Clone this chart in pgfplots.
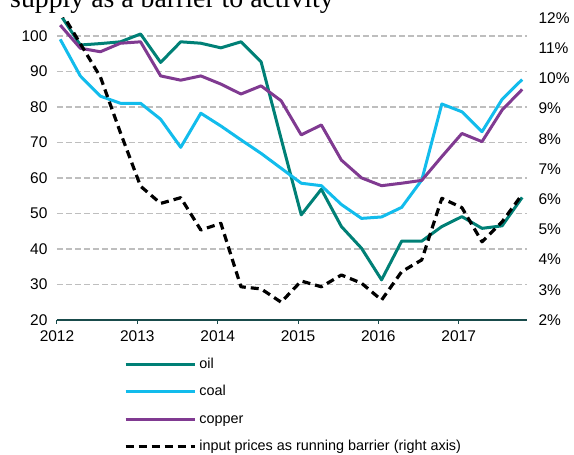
\documentclass[border=0pt]{standalone}
\usepackage{fontspec}
\setmainfont{Liberation Sans}
\newfontfamily\seriffont{Liberation Serif}
\usepackage{pgfplots}
\pgfplotsset{compat=1.18}
\definecolor{oilc}{RGB}{0,128,118}
\definecolor{coalc}{RGB}{18,188,236}
\definecolor{copc}{RGB}{128,58,145}
\definecolor{axc}{RGB}{25,75,75}
\definecolor{gridc}{RGB}{190,190,190}
\pgfplotsset{
  every axis/.append style={
    scale only axis, width=470pt, height=302pt,
    xmin=2012, xmax=2017.85,
    /pgf/number format/assume math mode=true,
    tick label style={font=\fontsize{15.5}{18}\selectfont},
  },
  mainline/.style={line width=3pt, line join=round},
}
\begin{document}
\begin{tikzpicture}[x=1pt,y=1pt]
\node[anchor=base west, inner sep=0pt, font=\seriffont\fontsize{27.8}{30}\selectfont] at (-47,312.7) {supply as a barrier to activity};
\begin{axis}[at={(0,0)}, anchor=south west,
  ymin=20, ymax=105,
  axis x line*=bottom, axis y line*=left,
  y axis line style={draw=none},
  x axis line style={draw=axc, line width=1.5pt},
  xtick={2012,2013,2014,2015,2016,2017},
  xticklabels={2012,2013,2014,2015,2016,2017},
  xtick align=outside,
  major tick length=4pt,
  xtick style={draw=axc, line width=1pt},
  ytick={20,30,40,50,60,70,80,90,100},
  ytick style={draw=none},
  ymajorgrids, grid style={draw=gridc, line width=1.5pt, dash pattern=on 6pt off 3pt},
  yticklabel style={xshift=-6pt},
  xticklabel style={yshift=-3pt},
]
\addplot[mainline, oilc] coordinates {
(2012.04,106) (2012.29,97.4) (2012.54,97.8) (2012.79,98.3) (2013.04,100.5) (2013.29,92.5)
(2013.54,98.3) (2013.79,97.9) (2014.04,96.6) (2014.29,98.3) (2014.54,92.7) (2014.79,71)
(2015.04,49.6) (2015.29,56.8) (2015.54,46.3) (2015.79,40.2) (2016.04,31.3) (2016.29,42.2)
(2016.54,42.2) (2016.79,46.3) (2017.04,49.1) (2017.29,45.8) (2017.54,46.5) (2017.79,54.5)};
\addplot[mainline, coalc] coordinates {
(2012.04,99) (2012.29,88.7) (2012.54,83.0) (2012.79,81.0) (2013.04,81.0) (2013.29,76.5)
(2013.54,68.6) (2013.79,78.2) (2014.04,74.6) (2014.29,70.7) (2014.54,66.9) (2014.79,62.7)
(2015.04,58.5) (2015.29,57.8) (2015.54,52.5) (2015.79,48.6) (2016.04,49.0) (2016.29,51.7)
(2016.54,59.4) (2016.79,80.8) (2017.04,78.6) (2017.29,73.0) (2017.54,82.1) (2017.79,87.7)};
\addplot[mainline, copc] coordinates {
(2012.04,103.0) (2012.29,96.5) (2012.54,95.5) (2012.79,97.9) (2013.04,98.3) (2013.29,88.7)
(2013.54,87.5) (2013.79,88.7) (2014.04,86.4) (2014.29,83.6) (2014.54,85.9) (2014.79,81.7)
(2015.04,72.1) (2015.29,74.9) (2015.54,65.0) (2015.79,60.0) (2016.04,57.8) (2016.29,58.5)
(2016.54,59.3) (2016.79,66.0) (2017.04,72.5) (2017.29,70.2) (2017.54,79.1) (2017.79,84.9)};
\end{axis}
\begin{axis}[at={(0,0)}, anchor=south west,
  ymin=2, ymax=12,
  hide x axis,
  axis y line*=right,
  y axis line style={draw=none},
  ytick={2,3,4,5,6,7,8,9,10,11,12},
  yticklabel={\pgfmathprintnumber{\tick}\%},
  ytick style={draw=none},
  yticklabel style={xshift=8pt},
  legend style={at={(axis description cs:0.136,-0.113)}, anchor=north west,
    draw=none, fill=none, font=\fontsize{14.4}{17}\selectfont,
    row sep=11.5pt, legend cell align=left,
    /tikz/every odd column/.append style={column sep=2pt},
    nodes={inner sep=1pt, text height=11pt, text depth=3pt}},
  legend image code/.code={\draw[#1] (0pt,0pt) -- (69pt,0pt);},
]
\addlegendimage{mainline, oilc}
\addlegendentry{oil}
\addlegendimage{mainline, coalc}
\addlegendentry{coal}
\addlegendimage{mainline, copc}
\addlegendentry{copper}
\addplot[line width=3.2pt, black, dash pattern=on 8pt off 5pt, line join=round] coordinates {
(2012.04,12.25) (2012.29,11.15) (2012.54,10.05) (2012.79,8.2) (2013.04,6.43) (2013.29,5.86)
(2013.54,6.05) (2013.79,4.98) (2014.04,5.2) (2014.29,3.1) (2014.54,3.03) (2014.79,2.59)
(2015.04,3.29) (2015.29,3.1) (2015.54,3.49) (2015.79,3.22) (2016.04,2.66) (2016.29,3.6)
(2016.54,3.99) (2016.79,6.03) (2017.04,5.72) (2017.29,4.59) (2017.54,5.25) (2017.79,6.16)};
\addlegendentry{input prices as running barrier (right axis)}
\end{axis}
\pgfresetboundingbox
\path[use as bounding box] (-57,-135) rectangle (517,320);
\end{tikzpicture}
\end{document}
